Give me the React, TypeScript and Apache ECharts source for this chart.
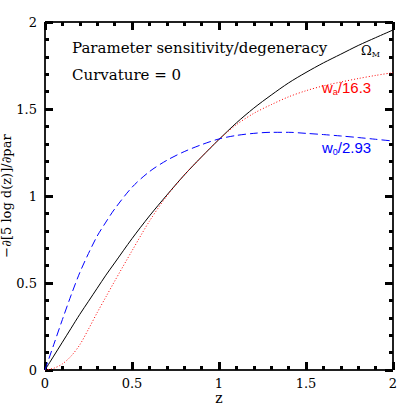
import React, { useEffect, useRef } from "react";
import * as echarts from "echarts";

const zValues = [0, 0.05, 0.1, 0.15, 0.2, 0.25, 0.3, 0.35, 0.4, 0.5, 0.6, 0.7, 0.8, 0.9, 1.0, 1.1, 1.2, 1.3, 1.4, 1.5, 1.6, 1.7, 1.8, 1.9, 2.0];
const omegaM = [0, 0.08, 0.16, 0.24, 0.32, 0.395, 0.47, 0.545, 0.615, 0.755, 0.885, 1.005, 1.12, 1.225, 1.325, 1.42, 1.505, 1.58, 1.65, 1.71, 1.765, 1.815, 1.865, 1.91, 1.954];
const waScaled = [0, 0.01, 0.035, 0.08, 0.145, 0.235, 0.33, 0.42, 0.51, 0.685, 0.855, 1.0, 1.12, 1.225, 1.325, 1.41, 1.475, 1.525, 1.57, 1.605, 1.633, 1.655, 1.675, 1.693, 1.709];
const w0Scaled = [0, 0.145, 0.29, 0.43, 0.56, 0.67, 0.77, 0.85, 0.925, 1.05, 1.14, 1.205, 1.255, 1.295, 1.328, 1.348, 1.36, 1.366, 1.366, 1.36, 1.353, 1.345, 1.336, 1.326, 1.316];

const toPairs = (ys: number[]) => zValues.map((z, i) => [z, ys[i]]);

const FONT = "DejaVu Serif";
const SANS = "Liberation Sans";

export default function App() {
  const ref = useRef<HTMLDivElement>(null);
  useEffect(() => {
    if (!ref.current) return;
    const chart = echarts.init(ref.current, null, { renderer: "svg" });
    const tickCommon = () => ({
      axisLine: { show: true, onZero: false, lineStyle: { color: "#000", width: 1.5, cap: "butt" } },
      axisTick: { show: true, inside: true, length: 8, lineStyle: { color: "#000", width: 3 } },
      minorTick: { show: true, splitNumber: 5, length: 4, lineStyle: { color: "#000", width: 3 } },
      splitLine: { show: false },
      minorSplitLine: { show: false },
    });
    chart.setOption({
      animation: false,
      backgroundColor: "#fff",
      grid: {
        left: 45, top: 22, right: 22, bottom: 45, containLabel: false, outerBoundsMode: "none",
        show: true, borderColor: "#000", borderWidth: 1, backgroundColor: "transparent",
      },
      xAxis: [
        {
          type: "value", min: 0, max: 2, interval: 0.5, position: "bottom",
          ...tickCommon(),
          axisLabel: { show: true, margin: 7, color: "#000", fontFamily: FONT, fontSize: 13 },
          name: "z", nameLocation: "middle", nameGap: 21, nameMoveOverlap: false,
          nameTextStyle: { color: "#000", fontFamily: FONT, fontSize: 14 },
        },
        {
          type: "value", min: 0, max: 2, interval: 0.5, position: "top",
          ...tickCommon(),
          axisLabel: { show: false },
        },
      ],
      yAxis: [
        {
          type: "value", min: 0, max: 2, interval: 0.5, position: "left",
          ...tickCommon(),
          axisLabel: { show: true, margin: 8, color: "#000", fontFamily: FONT, fontSize: 13 },
          name: "\u2212\u2202[5 log d(z)]/\u2202par", nameLocation: "middle", nameGap: 32, nameMoveOverlap: false,
          nameTextStyle: { color: "#000", fontFamily: FONT, fontSize: 13 },
        },
        {
          type: "value", min: 0, max: 2, interval: 0.5, position: "right",
          ...tickCommon(),
          axisLabel: { show: false },
        },
      ],
      series: [
        {
          name: "Omega_M", type: "line", data: toPairs(omegaM), smooth: 0.3, showSymbol: false,
          lineStyle: { color: "#000", width: 1, type: "solid" }, z: 3,
        },
        {
          name: "wa", type: "line", data: toPairs(waScaled), smooth: 0.3, showSymbol: false,
          lineStyle: { color: "#ff0000", width: 1, type: [1, 2] }, z: 4,
        },
        {
          name: "w0", type: "line", data: toPairs(w0Scaled), smooth: 0.3, showSymbol: false,
          lineStyle: { color: "#0000ff", width: 1, type: [8, 4] }, z: 4,
        },
      ],
      graphic: [
        {
          type: "text", left: 72, top: 40,
          style: { text: "Parameter sensitivity/degeneracy", fill: "#000", font: `15px '${FONT}'` },
        },
        {
          type: "text", left: 72, top: 67,
          style: { text: "Curvature = 0", fill: "#000", font: `15px '${FONT}'` },
        },
        {
          type: "text", left: 361, top: 44,
          style: {
            text: "{b|\u03A9}{s|M}", fill: "#000",
            rich: {
              b: { fontFamily: FONT, fontSize: 13, fill: "#000" },
              s: { fontFamily: FONT, fontSize: 8, fill: "#000", padding: [8, 0, 0, 0] },
            },
          },
        },
        {
          type: "text", left: 322, top: 80,
          style: {
            text: "{b|w}{s|a}{b|/16.3}", fill: "#ff0000",
            rich: {
              b: { fontFamily: SANS, fontSize: 15, fill: "#ff0000" },
              s: { fontFamily: SANS, fontSize: 9, fill: "#ff0000", padding: [8, 0, 0, 0] },
            },
          },
        },
        {
          type: "text", left: 322, top: 140,
          style: {
            text: "{b|w}{s|0}{b|/2.93}", fill: "#0000ff",
            rich: {
              b: { fontFamily: SANS, fontSize: 15, fill: "#0000ff" },
              s: { fontFamily: SANS, fontSize: 9, fill: "#0000ff", padding: [8, 0, 0, 0] },
            },
          },
        },
      ],
    });
    return () => chart.dispose();
  }, []);
  return <div ref={ref} style={{ position: "absolute", left: 0, top: 0, width: 415, height: 415 }} />;
}
